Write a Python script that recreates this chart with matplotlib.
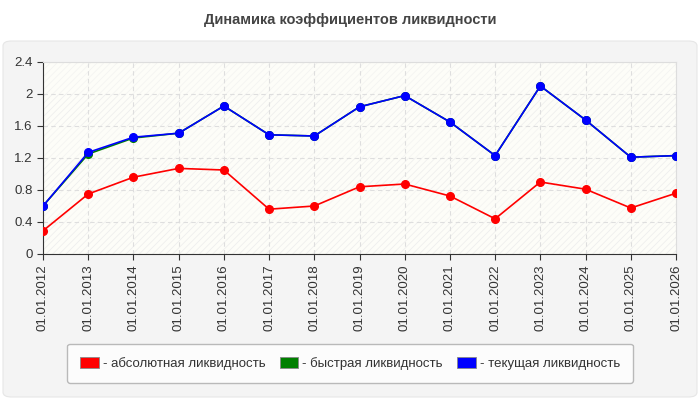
import matplotlib
matplotlib.use("Agg")
import matplotlib.pyplot as plt
from matplotlib.patches import FancyBboxPatch, Patch

plt.rcParams["font.family"] = ["Liberation Sans", "DejaVu Sans"]
plt.rcParams["hatch.linewidth"] = 0.5

dates = ["01.01.2012", "01.01.2013", "01.01.2014", "01.01.2015", "01.01.2016",
         "01.01.2017", "01.01.2018", "01.01.2019", "01.01.2020", "01.01.2021",
         "01.01.2022", "01.01.2023", "01.01.2024", "01.01.2025", "01.01.2026"]
absolute = [0.29, 0.75, 0.96, 1.07, 1.05, 0.56, 0.60, 0.84, 0.875, 0.725,
            0.44, 0.90, 0.81, 0.575, 0.76]
quick = [0.60, 1.25, 1.45, 1.51, 1.85, 1.49, 1.475, 1.84, 1.98, 1.65,
         1.23, 2.10, 1.675, 1.21, 1.23]
current = [0.60, 1.27, 1.46, 1.51, 1.85, 1.49, 1.475, 1.84, 1.98, 1.65,
           1.23, 2.10, 1.675, 1.21, 1.23]
yticks = [0, 0.4, 0.8, 1.2, 1.6, 2, 2.4]
series = [
    ("- абсолютная ликвидность", absolute, "#ff0000"),
    ("- быстрая ликвидность", quick, "#008000"),
    ("- текущая ликвидность", current, "#0000ff"),
]

fig = plt.figure(figsize=(7, 4), dpi=100, facecolor="white")

# grey rounded panel behind the chart
panel = FancyBboxPatch((3 / 700, 3 / 400), 694 / 700, 356 / 400,
                       boxstyle="round,pad=0,rounding_size=0.012",
                       transform=fig.transFigure, facecolor="#f4f4f4",
                       edgecolor="#e6e6e6", linewidth=0.8, zorder=-1)
fig.patches.append(panel)

fig.text(0.5, 1 - 20 / 400, "Динамика коэффициентов ликвидности", ha="center",
         va="center", fontsize=10.5, fontweight="bold", color="#444444")

ax = fig.add_axes([43 / 700, 146 / 400, 633 / 700, 192 / 400])
ax.set_zorder(1)
ax.set_facecolor("#fdfdf8")
x = list(range(len(dates)))

for i in range(len(yticks) - 1):
    ax.axhspan(yticks[i], yticks[i + 1], facecolor="none",
               edgecolor="#ececec" if i % 2 == 0 else "#f3f3f1",
               hatch="/////", linewidth=0, zorder=0)

for label, values, color in series:
    ax.plot(x, values, color=color, linewidth=1.2, marker="o",
            markersize=5.5, label=label, zorder=3)

ax.set_xlim(0, len(dates) - 1)
ax.set_ylim(0, 2.4)
ax.set_yticks(yticks)
ax.set_yticklabels([f"{v:g}" for v in yticks])
ax.set_xticks(x)
ax.set_xticklabels(dates, rotation=90)
ax.tick_params(labelsize=9.5, colors="#333333", length=4, width=0.8)
ax.grid(color="#dedede", linestyle=(0, (4, 3)), linewidth=0.8, zorder=1)
for side in ("top", "right"):
    ax.spines[side].set_color("#dddddd")
for side in ("left", "bottom"):
    ax.spines[side].set_color("#333333")

handles = [Patch(facecolor=c, edgecolor="#888888", linewidth=0.6, label=l)
           for l, _, c in series]
leg = fig.legend(handles=handles, loc="lower left",
                 bbox_to_anchor=(67 / 700, 1 - 383 / 400, 566 / 700, 37 / 400),
                 mode="expand", ncol=3, fontsize=9.5, frameon=True,
                 fancybox=True, handlelength=1.4, handleheight=0.9,
                 handletextpad=0.3, borderaxespad=0, borderpad=1.0)
leg.set_zorder(2)
leg.get_frame().set_facecolor("white")
leg.get_frame().set_edgecolor("#aaaaaa")
for t in leg.get_texts():
    t.set_color("#333333")

fig.savefig("out.png", dpi=100, facecolor="white")
